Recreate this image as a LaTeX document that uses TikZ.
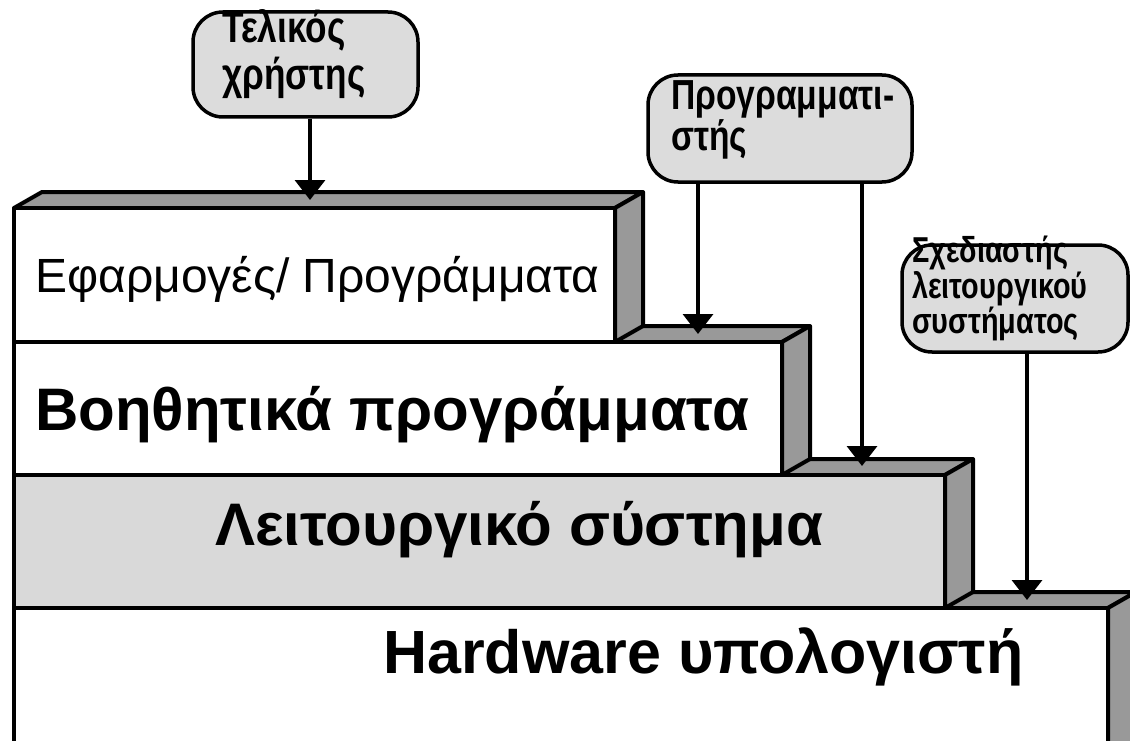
\documentclass[tikz,border=0pt]{standalone}
\usepackage{fontspec}
\setmainfont{Liberation Sans}
\newfontfamily\callfont[FakeStretch=0.8]{Liberation Sans}
\usetikzlibrary{arrows.meta,calc}
\definecolor{sidegray}{HTML}{999999}
\definecolor{lightgray2}{HTML}{D9D9D9}
\definecolor{calloutgray}{HTML}{DCDCDC}
\newcommand\drawlayer[5]{%
  \filldraw[face,fill=sidegray] (#1,#2) -- (#1+28,#2-16) -- (#3+28,#2-16) -- (#3,#2) -- cycle;
  \filldraw[face,fill=sidegray] (#3,#2) -- (#3+28,#2-16) -- (#3+28,#4-16) -- (#3,#4) -- cycle;
  \filldraw[face,fill=#5] (#1,#2) rectangle (#3,#4);
}
\begin{document}
\begin{tikzpicture}[x=1pt,y=-1pt,
  face/.style={draw=black,line width=4pt,line join=round},
  callout/.style={draw=black,line width=3.5pt,fill=calloutgray,rounded corners=30pt,inner sep=0pt},
  ctext/.style={anchor=base west,align=left,inner sep=0pt},
  arr/.style={draw=black,line width=3.5pt,-{Triangle[width=30pt,length=20pt]}},
  lbl/.style={anchor=base west,inner sep=0pt}]
\useasboundingbox (0,0) rectangle (1130,741);
\clip (0,0) rectangle (1130,741);
% layers, bottom first
\drawlayer{14}{608}{1108}{770}{white}
\drawlayer{14}{475}{945}{608}{lightgray2}
\drawlayer{14}{342}{782}{475}{white}
\drawlayer{14}{208}{615}{342}{white}
% layer labels
\node[lbl,font=\fontsize{48}{50}\selectfont] (l1) at (35,292) {Εφαρμογές/ Προγράμματα};
\node[lbl,font=\bfseries\fontsize{60}{60}\selectfont] (l2) at (35,430) {Βοηθητικά προγράμματα};
\node[lbl,font=\bfseries\fontsize{60}{60}\selectfont] (l3) at (215,545) {Λειτουργικό σύστημα};
\node[lbl,font=\bfseries\fontsize{61}{60}\selectfont] (l4) at (383,673) {Hardware υπολογιστή};
% callouts
\node[callout,minimum width=225pt,minimum height=105pt] (c1) at (305.5,64.5) {};
\node[ctext,font=\callfont\bfseries\fontsize{44}{47}\selectfont] (c1t) at (222,90) {Τελικός\\χρήστης};
\node[callout,minimum width=264pt,minimum height=107pt] (c2) at (780,128.5) {};
\node[ctext,font=\callfont\bfseries\fontsize{42}{37}\selectfont] (c2t) at (671,150) {Προγραμματι-\\στής};
\node[callout,minimum width=226pt,minimum height=107pt] (c3) at (1015,298.5) {};
\node[ctext,font=\callfont\bfseries\fontsize{36}{31.5}\selectfont] (c3t) at (912,333) {Σχεδιαστής\\λειτουργικού\\συστήματος};
% arrow tips on the top faces
\coordinate (a1) at (310,200);
\coordinate (a2) at (698,334);
\coordinate (a3) at (862,466);
\coordinate (a4) at (1027,600);
\draw[arr] (c1.south -| a1) -- (a1);
\draw[arr] (c2.south -| a2) -- (a2);
\draw[arr] (c2.south -| a3) -- (a3);
\draw[arr] (c3.south -| a4) -- (a4);
\end{tikzpicture}
\end{document}
